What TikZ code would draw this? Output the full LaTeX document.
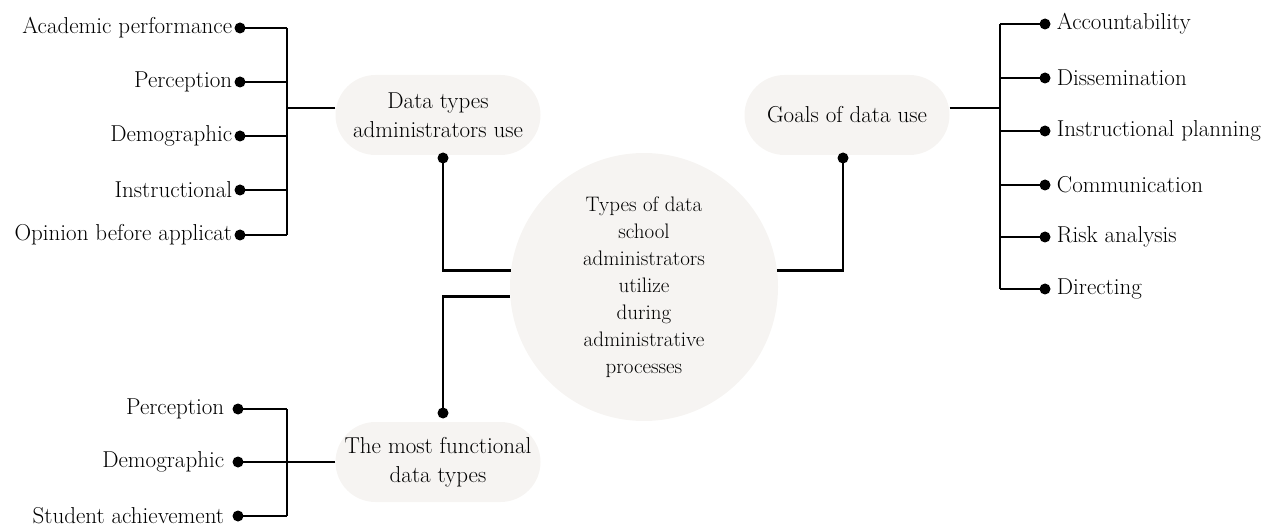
\documentclass[tikz,border=0pt]{standalone}
\usepackage{fontspec}
\usetikzlibrary{positioning}
\definecolor{pillgray}{HTML}{F6F4F2}

\begin{document}
\begin{tikzpicture}[x=1pt, y=-1pt,
            pillnode/.style={rectangle, rounded corners=40pt, fill=pillgray, minimum width=205pt, minimum height=80pt, align=center, text=black, font=\fontsize{23}{29}\selectfont},
            hubnode/.style={circle, fill=pillgray, minimum size=268pt, align=center, text=black, font=\fontsize{21}{27}\selectfont},
            dotnode/.style={circle, fill=black, inner sep=0pt, minimum width=10pt, minimum height=11pt},
            leafnode/.style={inner sep=0pt, text=black, font=\fontsize{23}{26}\selectfont},
            link/.style={line width=2.5pt},
            ]
            \useasboundingbox (0,0) rectangle (1277,529);
            % centre and the three groups
            \node[hubnode] (hub) at (644,287) {Types of data\\school\\administrators\\utilize\\during\\administrative\\processes};
            \node[pillnode] (types) at (438,115) {Data types\\administrators use};
            \node[pillnode] (goals) at (847,115) {Goals of data use};
            \node[pillnode] (most) at (438,462) {The most functional\\data types};
            \node[dotnode] (dtypes) at (443,158) {};
            \node[dotnode] (dgoals) at (843,158) {};
            \node[dotnode] (dmost) at (443,413) {};
            \draw[link] (dtypes.center) |- (hub.173);
            \draw[link] (hub.184) -| (dmost.center);
            \draw[link] (hub.7) -| (dgoals.center);
            % trunks
            \coordinate (trunkA) at (287,108);
            \coordinate (trunkB) at (1000,108);
            \coordinate (trunkC) at (287,462);
            \draw[link] (types.west |- trunkA) -- (trunkA);
            \draw[link] (goals.east |- trunkB) -- (trunkB);
            \draw[link] (most.west |- trunkC) -- (trunkC);
            % leaves
            \foreach \txt/\y [count=\i] in {Academic performance/28, Perception/82, Demographic/136, Instructional/190, Opinion before applicat/235} {
                \node[dotnode] (la\i) at (240,\y) {};
                \node[leafnode, left=2pt of la\i] (ta\i) {\txt};
                \draw[link] (la\i.center) -- (la\i.center -| trunkA);
            }
            \draw[link] (la1.center -| trunkA) -- (la5.center -| trunkA);
            \foreach \txt/\y [count=\i] in {Accountability/24, Dissemination/78, Instructional planning/131, Communication/185, Risk analysis/237, Directing/289} {
                \node[dotnode] (lb\i) at (1045,\y) {};
                \node[leafnode, right=6pt of lb\i] (tb\i) {\txt};
                \draw[link] (lb\i.center) -- (lb\i.center -| trunkB);
            }
            \draw[link] (lb1.center -| trunkB) -- (lb6.center -| trunkB);
            \foreach \txt/\y [count=\i] in {Perception/409, Demographic/462, Student achievement/516} {
                \node[dotnode] (lc\i) at (238,\y) {};
                \node[leafnode, left=8pt of lc\i] (tc\i) {\txt};
                \draw[link] (lc\i.center) -- (lc\i.center -| trunkC);
            }
            \draw[link] (lc1.center -| trunkC) -- (lc3.center -| trunkC);
        \end{tikzpicture}
\end{document}
